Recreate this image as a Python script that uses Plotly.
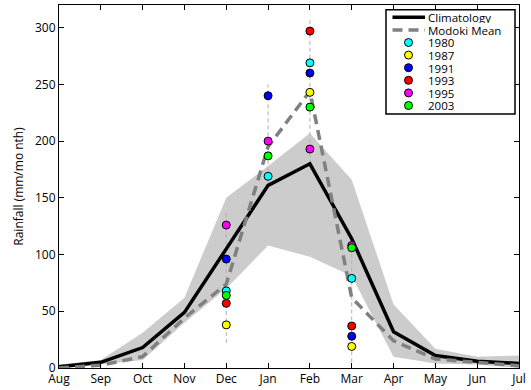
import plotly.graph_objects as go

# ---------------- data ----------------
months = ['Aug', 'Sep', 'Oct', 'Nov', 'Dec', 'Jan', 'Feb', 'Mar', 'Apr', 'May', 'Jun', 'Jul']
month_idx = list(range(1, 13))

climatology = [1, 5, 18, 49, 105, 161, 180, 114, 32, 11, 6, 4]
modoki_mean = [0, 2.5, 10, 44, 74, 195, 244, 62, 24, 8, 5, 2]
band_upper = [3, 7, 31, 62, 150, 178, 207, 166, 56, 17, 10, 11]
band_lower = [0, 3, 7, 40, 70, 108, 98, 81, 10, 4, 3, 0]

event_months = [5, 6, 7, 8]          # Dec, Jan, Feb, Mar
range_low = [22, 161, 180, 5]
range_high = [138, 250, 309, 113]

years = ['1980', '1987', '1991', '1993', '1995', '2003']
year_colors = ['#00ffff', '#ffff00', '#0000ff', '#ff0000', '#ff00ff', '#00ff00']
year_values = {
    '1980': [68, 169, 269, 79],
    '1987': [38, None, 243, 19],
    '1991': [96, 240, 260, 28],
    '1993': [57, None, 297, 37],
    '1995': [126, 200, 193, 108],
    '2003': [64, 187, 230, 106],
}

y_ticks = [0, 50, 100, 150, 200, 250, 300]

# ---------------- figure ----------------
FONT = 'Open Sans'
fig = go.Figure()

# shaded band
fig.add_trace(go.Scatter(x=month_idx, y=band_lower, mode='lines',
                         line=dict(width=0, color='rgba(0,0,0,0)'),
                         hoverinfo='skip', showlegend=False))
fig.add_trace(go.Scatter(x=month_idx, y=band_upper, mode='lines',
                         line=dict(width=0, color='rgba(0,0,0,0)'),
                         fill='tonexty', fillcolor='#cccccc',
                         hoverinfo='skip', showlegend=False))

# vertical range lines
for m, lo, hi in zip(event_months, range_low, range_high):
    fig.add_trace(go.Scatter(x=[m, m], y=[lo, hi], mode='lines',
                             line=dict(color='#b0b0b0', width=1, dash='4px,3px'),
                             hoverinfo='skip', showlegend=False))

fig.add_trace(go.Scatter(x=month_idx, y=climatology, mode='lines',
                         name='Climatology',
                         line=dict(color='black', width=3.5), showlegend=False))
fig.add_trace(go.Scatter(x=month_idx, y=modoki_mean, mode='lines',
                         name='Modoki Mean',
                         line=dict(color='#808080', width=3.5, dash='10px,6px'),
                         showlegend=False))

for yr, col in zip(years, year_colors):
    fig.add_trace(go.Scatter(x=event_months, y=year_values[yr], mode='markers',
                             name=yr,
                             marker=dict(color=col, size=8,
                                         line=dict(color='black', width=1)),
                             showlegend=False))

# ---------------- manual legend (paper coords) ----------------
L, R, T, B = 59, 519, 5, 368          # plot area in pixels
PW, PH = R - L, B - T
def px(xp):
    return (xp - L) / PW
def py(yp):
    return (B - yp) / PH

shapes = []
annotations = []
shapes.append(dict(type='rect', xref='paper', yref='paper',
                   x0=px(386), x1=px(515), y0=py(114), y1=py(9.7),
                   line=dict(color='black', width=1.5), fillcolor='white', layer='above'))
row0, row_step = 17.3, 12.6
legend_items = [('Climatology', 'line', 'black', 'solid'),
                ('Modoki Mean', 'line', '#808080', '10px,6px')]
legend_items += [(yr, 'marker', col, None) for yr, col in zip(years, year_colors)]
for i, (label, kind, col, dash) in enumerate(legend_items):
    yy = py(row0 + i * row_step)
    if kind == 'line':
        shapes.append(dict(type='line', xref='paper', yref='paper',
                           x0=px(392.5), x1=px(425), y0=yy, y1=yy,
                           line=dict(color=col, width=3.5, dash=dash), layer='above'))
    else:
        shapes.append(dict(type='circle', xref='paper', yref='paper',
                           xsizemode='pixel', ysizemode='pixel',
                           xanchor=px(408.5), yanchor=yy,
                           x0=-4, x1=4, y0=-4, y1=4,
                           fillcolor=col, line=dict(color='black', width=1),
                           layer='above'))
    annotations.append(dict(xref='paper', yref='paper', x=px(427), y=yy,
                            text=label, showarrow=False, xanchor='left', yanchor='middle',
                            borderpad=0, height=12, valign='middle',
                            font=dict(family=FONT, size=11.5, color='black')))

fig.update_layout(
    width=531, height=390,
    margin=dict(l=L, r=531 - R, t=T, b=390 - B, autoexpand=False),
    paper_bgcolor='white', plot_bgcolor='white',
    font=dict(family=FONT, size=12, color='black'),
    shapes=shapes, annotations=annotations,
    showlegend=False,
)
fig.update_xaxes(range=[1, 12], tickmode='array', tickvals=month_idx, ticktext=months,
                 showgrid=False, zeroline=False, showline=True, linecolor='black',
                 linewidth=1, mirror='ticks', ticks='inside', ticklen=5,
                 tickcolor='black', tickfont=dict(family=FONT, size=12),
                 automargin=False)
fig.update_yaxes(range=[0, 320], tickmode='array', tickvals=y_ticks,
                 showgrid=False, zeroline=False, showline=True, linecolor='black',
                 linewidth=1, mirror='ticks', ticks='inside', ticklen=5,
                 tickcolor='black', tickfont=dict(family=FONT, size=12),
                 automargin=False,
                 title=dict(text='Rainfall (mm/mo nth)', font=dict(family=FONT, size=12),
                            standoff=8))

fig.write_html('out.html', config={'displayModeBar': False},
               post_script="document.body.style.margin='0';document.body.style.padding='0';")
